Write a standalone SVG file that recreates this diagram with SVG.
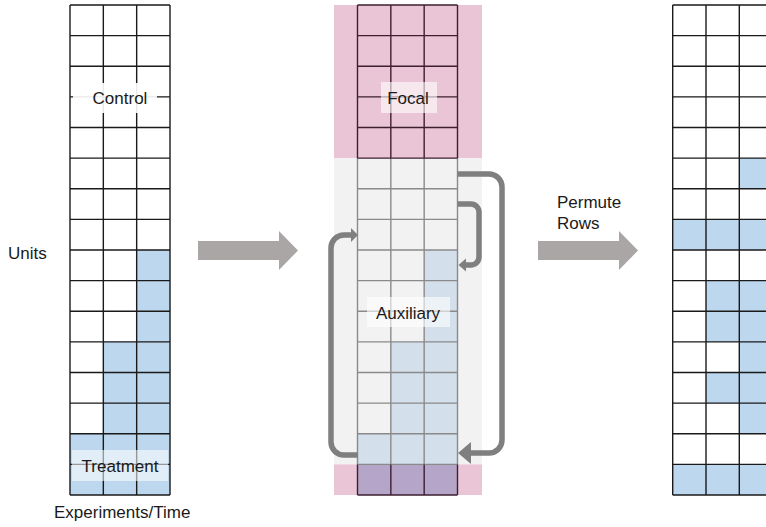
<svg xmlns="http://www.w3.org/2000/svg" width="766" height="527" viewBox="0 0 766 527">
<style>
text{font-family:"Liberation Sans",Arial,sans-serif;font-size:17px;fill:#1a1a1a}
.c{text-anchor:middle}
.blue{fill:#bdd7ee}
.ablue{fill:#d3dfea}
.pink{fill:#eac5d5}
.blk{stroke:#1a1a1a;stroke-width:1.4;fill:none}
.gry{stroke:#8a8a8a;stroke-width:1.4;fill:none}
.dk{stroke:#3d1f30;stroke-width:1.4;fill:none}
.lbl{fill:#fff}
.big{fill:#aba6a6}
.loop{stroke:#7f7f7f;stroke-width:5.5;fill:none;stroke-linejoin:round}
.head{fill:#7f7f7f}
</style>
<rect width="766" height="527" fill="#fff"/>

<g id="control-grid">
<rect class="blue" x="136.67" y="250" width="33.33" height="245"/>
<rect class="blue" x="103.33" y="341.875" width="33.34" height="153.125"/>
<rect class="blue" x="70" y="433.75" width="33.33" height="61.25"/>
<path class="blk" d="M70 5H170M70 35.625H170M70 66.25H170M70 96.875H170M70 127.5H170M70 158.125H170M70 188.75H170M70 219.375H170M70 250H170M70 280.625H170M70 311.25H170M70 341.875H170M70 372.5H170M70 403.125H170M70 433.75H170M70 464.375H170M70 495H170M70 5V495M103.33 5V495M136.67 5V495M170 5V495"/>
<rect class="lbl" x="73" y="83" width="84" height="30" opacity="0.9"/>
<text class="c" x="120" y="104">Control</text>
<rect class="lbl" x="72" y="450" width="96" height="31" opacity="0.55"/>
<text class="c" x="120" y="472">Treatment</text>
</g>

<g id="axis-labels">
<text x="8" y="259">Units</text>
<text x="54" y="518">Experiments/Time</text>
</g>

<g id="middle-grid">
<rect class="pink" x="334" y="5" width="148" height="153.125"/>
<rect fill="#f2f2f2" x="334" y="158.125" width="148" height="306.25"/>
<rect class="pink" x="334" y="464.375" width="148" height="30.625"/>
<rect class="ablue" x="424.17" y="250" width="33.33" height="214.375"/>
<rect class="ablue" x="390.83" y="341.875" width="33.34" height="122.5"/>
<rect class="ablue" x="357.5" y="433.75" width="33.33" height="30.625"/>
<rect fill="#b5a5c8" x="357.5" y="464.375" width="100" height="30.625"/>
<path class="gry" d="M357.5 188.75H457.5M357.5 219.375H457.5M357.5 250H457.5M357.5 280.625H457.5M357.5 311.25H457.5M357.5 341.875H457.5M357.5 372.5H457.5M357.5 403.125H457.5M357.5 433.75H457.5M357.5 464.375H457.5M357.5 158.125V464.375M390.83 158.125V464.375M424.17 158.125V464.375M457.5 158.125V464.375"/>
<path class="dk" d="M357.5 5H457.5M357.5 35.625H457.5M357.5 66.25H457.5M357.5 96.875H457.5M357.5 127.5H457.5M357.5 158.125H457.5M357.5 5V158.125M390.83 5V158.125M424.17 5V158.125M457.5 5V158.125M357.5 495H457.5M357.5 464.375V495M390.83 464.375V495M424.17 464.375V495M457.5 464.375V495"/>
<rect class="lbl" x="381" y="82" width="56" height="31" opacity="0.6"/>
<text class="c" x="408" y="104">Focal</text>
<rect class="lbl" x="367" y="297" width="83" height="30" opacity="0.6"/>
<text class="c" x="408" y="319">Auxiliary</text>
</g>

<g id="permuted-grid">
<rect class="blue" x="739.3" y="158.125" width="33.3" height="30.625"/>
<rect class="blue" x="672.7" y="219.375" width="100" height="30.625"/>
<rect class="blue" x="706" y="280.625" width="66.6" height="61.25"/>
<rect class="blue" x="739.3" y="341.875" width="33.3" height="30.625"/>
<rect class="blue" x="706" y="372.5" width="66.6" height="30.625"/>
<rect class="blue" x="739.3" y="403.125" width="33.3" height="30.625"/>
<rect class="blue" x="672.7" y="464.375" width="100" height="30.625"/>
<path class="blk" d="M672.7 5H772.6M672.7 35.625H772.6M672.7 66.25H772.6M672.7 96.875H772.6M672.7 127.5H772.6M672.7 158.125H772.6M672.7 188.75H772.6M672.7 219.375H772.6M672.7 250H772.6M672.7 280.625H772.6M672.7 311.25H772.6M672.7 341.875H772.6M672.7 372.5H772.6M672.7 403.125H772.6M672.7 433.75H772.6M672.7 464.375H772.6M672.7 495H772.6M672.7 5V495M706 5V495M739.3 5V495"/>
</g>

<g id="connectors">
<polygon class="big" points="198,241 279,241 279,231 298,250.5 279,270 279,260 198,260"/>
<polygon class="big" points="538,241 619,241 619,231 638,250.5 619,270 619,260 538,260"/>
<text x="557" y="208">Permute</text>
<text x="557" y="229">Rows</text>
<path class="loop" d="M457.5 174H489A13 13 0 0 1 502 187V440A13 13 0 0 1 489 453H469"/>
<polygon class="head" points="458,453 471,442 471,464"/>
<path class="loop" d="M457.5 204H471A8 8 0 0 1 479 212V257A8 8 0 0 1 471 265H464"/>
<polygon class="head" points="458.5,265 466,258.5 466,271.5"/>
<path class="loop" d="M358 455H344A13 13 0 0 1 331 442V248A13 13 0 0 1 344 235H352"/>
<polygon class="head" points="358,235 351,228 351,242"/>
</g>
</svg>
